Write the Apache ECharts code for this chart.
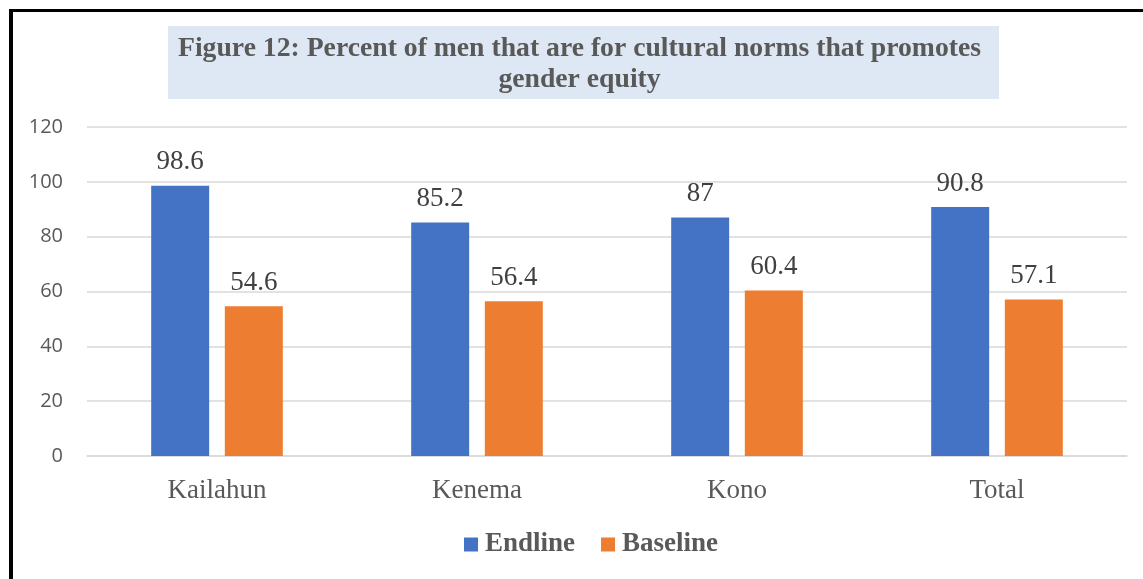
<!DOCTYPE html>
<html>
<head>
<meta charset="utf-8">
<script src="https://cdn.jsdelivr.net/npm/echarts@6/dist/echarts.min.js"></script>
<style>
  html, body { margin: 0; padding: 0; background: #ffffff; }
  #chart { width: 1143px; height: 579px; }
</style>
</head>
<body>
<div id="chart"></div>
<script>
// Districts and survey results (percent)
const categories = ['Kailahun', 'Kenema', 'Kono', 'Total'];
const endline = [98.6, 85.2, 87, 90.8];
const baseline = [54.6, 56.4, 60.4, 57.1];
const seriesNames = ['Endline', 'Baseline'];
const titleText = 'Figure 12: Percent of men that are for cultural norms that promotes\ngender equity';

const serif = '"Liberation Serif", "Times New Roman", serif';
const sans = '"Open Sans", "Liberation Sans", sans-serif';

const chart = echarts.init(document.getElementById('chart'), null, { renderer: 'canvas' });

const labelStyle = {
  show: true,
  position: 'top',
  distance: 10,
  fontFamily: serif,
  fontSize: 27,
  color: '#404040'
};

chart.setOption({
  animation: false,
  backgroundColor: '#ffffff',
  graphic: [
    // frame lines on left and top
    { type: 'rect', shape: { x: 9, y: 9, width: 4, height: 580 }, style: { fill: '#000' }, silent: true },
    { type: 'rect', shape: { x: 9, y: 9, width: 1140, height: 3 }, style: { fill: '#000' }, silent: true },
    // title box
    { type: 'rect', shape: { x: 168, y: 26, width: 831, height: 73 }, style: { fill: '#dde8f4' }, silent: true, z: 0 },
    {
      type: 'text', left: 178, top: 33, z: 10,
      style: {
        text: titleText, textAlign: 'center',
        font: 'bold 27.7px ' + serif, fill: '#595959', lineHeight: 31
      }
    }
  ],
  grid: { left: 87, right: 16, top: 127, bottom: 123, containLabel: false },
  legend: {
    data: seriesNames,
    bottom: 16,
    left: 459,
    itemWidth: 14,
    itemHeight: 14,
    itemGap: 26,
    icon: 'rect',
    textStyle: { fontFamily: serif, fontSize: 27, fontWeight: 'bold', color: '#595959', padding: [0, 0, 0, 2] }
  },
  xAxis: {
    type: 'category',
    data: categories,
    axisLine: { show: true, lineStyle: { color: '#d9d9d9', width: 1.5 } },
    axisTick: { show: false },
    axisLabel: { fontFamily: serif, fontSize: 27, color: '#595959', margin: 21 }
  },
  yAxis: {
    type: 'value',
    min: 0, max: 120, interval: 20,
    axisLine: { show: false },
    axisTick: { show: false },
    splitLine: { lineStyle: { color: '#d9d9d9', width: 1.5 } },
    axisLabel: { fontFamily: sans, fontSize: 20, color: '#595959', margin: 24 }
  },
  series: [
    {
      name: seriesNames[0], type: 'bar', data: endline,
      barWidth: '22.3%', barGap: '27%',
      itemStyle: { color: '#4472c4' }, label: labelStyle
    },
    {
      name: seriesNames[1], type: 'bar', data: baseline,
      barWidth: '22.3%',
      itemStyle: { color: '#ed7d31' }, label: labelStyle
    }
  ]
});
</script>
</body>
</html>
